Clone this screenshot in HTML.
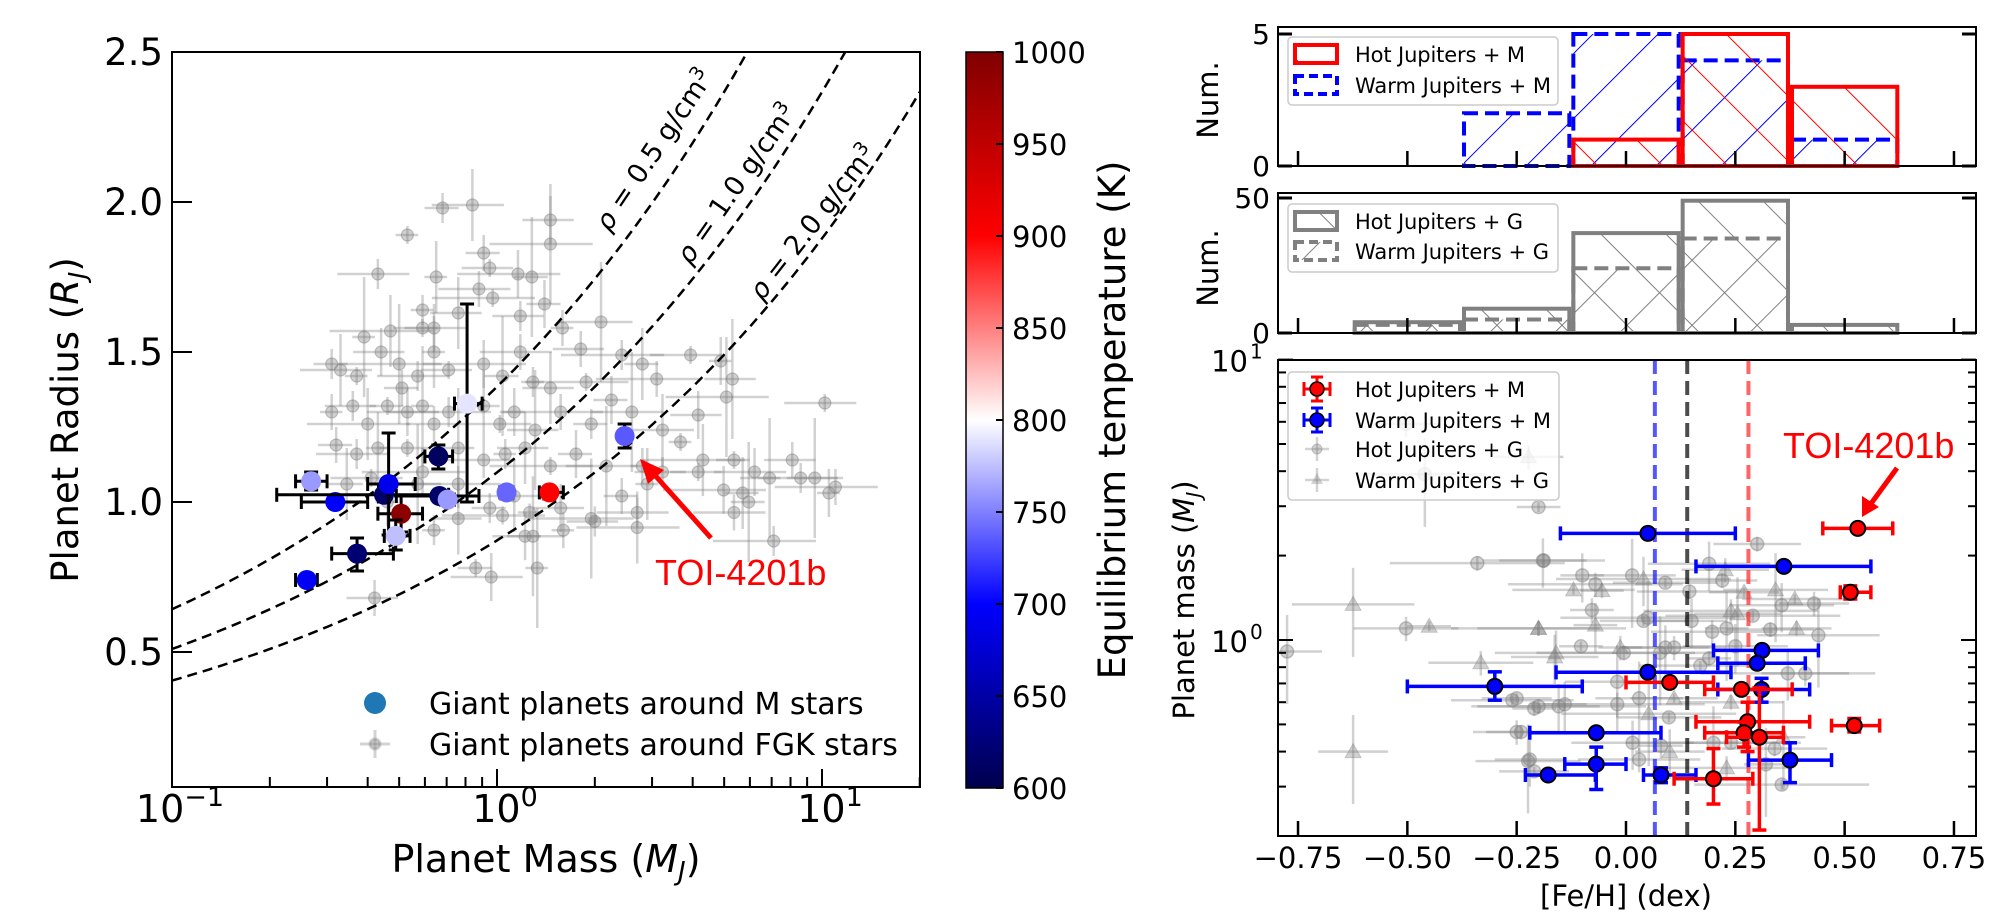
<!DOCTYPE html>
<html><head><meta charset="utf-8">
<style>
html,body{margin:0;padding:0;background:#fff;}
svg{display:block;font-family:"DejaVu Sans","Liberation Sans",sans-serif;}
</style></head>
<body>
<svg id="fig" width="2002" height="924" viewBox="0 0 2002 924" xmlns="http://www.w3.org/2000/svg">
<defs>
  <linearGradient id="seismic" x1="0" y1="1" x2="0" y2="0">
    <stop offset="0" stop-color="#00004d"/>
    <stop offset="0.25" stop-color="#0000ff"/>
    <stop offset="0.5" stop-color="#ffffff"/>
    <stop offset="0.75" stop-color="#ff0000"/>
    <stop offset="1" stop-color="#800000"/>
  </linearGradient>
  <pattern id="hatchRed" patternUnits="userSpaceOnUse" width="46" height="46" patternTransform="rotate(-45)">
    <line x1="0" y1="0" x2="0" y2="46" stroke="#ff0000" stroke-width="2"/>
  </pattern>
  <pattern id="hatchBlue" patternUnits="userSpaceOnUse" width="46" height="46" patternTransform="rotate(45)">
    <line x1="0" y1="0" x2="0" y2="46" stroke="#0000ff" stroke-width="2"/>
  </pattern>
  <pattern id="hatchGrayA" patternUnits="userSpaceOnUse" width="46" height="46" patternTransform="rotate(-45)">
    <line x1="0" y1="0" x2="0" y2="46" stroke="#808080" stroke-width="2"/>
  </pattern>
  <pattern id="hatchGrayB" patternUnits="userSpaceOnUse" width="46" height="46" patternTransform="rotate(45)">
    <line x1="0" y1="0" x2="0" y2="46" stroke="#808080" stroke-width="2"/>
  </pattern>
  <clipPath id="clipL"><rect x="172" y="52" width="748" height="735"/></clipPath>
  <clipPath id="clipR"><rect x="1278" y="360" width="698" height="476"/></clipPath>
</defs>

<g id="left-panel">
  <g id="lgray" clip-path="url(#clipL)"></g>
  <g id="lcurves" clip-path="url(#clipL)"></g>
  <g id="lmstars" clip-path="url(#clipL)"></g>
  <rect x="172" y="52" width="748" height="735" fill="none" stroke="#000" stroke-width="2"/>
  <g id="lticks"></g>
  <text x="609" y="233" font-size="27" transform="rotate(-56 609 233)"><tspan font-style="italic">ρ</tspan> = 0.5 g/cm<tspan dy="-10" font-size="19">3</tspan></text>
  <text x="690" y="266" font-size="27" transform="rotate(-55 690 266)"><tspan font-style="italic">ρ</tspan> = 1.0 g/cm<tspan dy="-10" font-size="19">3</tspan></text>
  <text x="762" y="302" font-size="27" transform="rotate(-52 762 302)"><tspan font-style="italic">ρ</tspan> = 2.0 g/cm<tspan dy="-10" font-size="19">3</tspan></text>
  <text x="655" y="585" font-size="36" fill="#ff0000" font-family="Liberation Sans, sans-serif">TOI-4201b</text>
  <line x1="711" y1="538" x2="652" y2="472" stroke="#ff0000" stroke-width="5"/>
  <polygon points="640,459 664,470 648,484" fill="#ff0000"/>
  <circle cx="375" cy="703" r="11" fill="#1f77b4"/>
  <text x="429" y="714" font-size="30">Giant planets around M stars</text>
  <g stroke="rgba(128,128,128,0.35)" stroke-width="3" fill="none">
    <line x1="360" y1="744" x2="390" y2="744"/><line x1="375" y1="730" x2="375" y2="758"/>
    <circle cx="375" cy="744" r="5" fill="rgba(128,128,128,0.35)"/>
  </g>
  <text x="429" y="755" font-size="30">Giant planets around FGK stars</text>
  <text x="546" y="872" font-size="38" text-anchor="middle">Planet Mass (<tspan font-style="italic">M</tspan><tspan font-style="italic" font-size="26" dy="8">J</tspan><tspan dy="-8">)</tspan></text>
  <text x="0" y="0" font-size="37" text-anchor="middle" transform="translate(78 420) rotate(-90)">Planet Radius (<tspan font-style="italic">R</tspan><tspan font-style="italic" font-size="25" dy="8">J</tspan><tspan dy="-8">)</tspan></text>
</g>

<g id="colorbar">
  <rect x="966" y="52" width="37" height="736" fill="url(#seismic)" stroke="#000" stroke-width="1.5"/>
  <g id="cbticks"></g>
  <text x="0" y="0" font-size="37" text-anchor="middle" transform="translate(1125 420) rotate(-90)">Equilibrium temperature (K)</text>
</g>

<g id="right-panels">
  <g id="hist1"></g>
  <g id="hist2"></g>
  <g id="rgray" clip-path="url(#clipR)"></g>
  <g id="rvlines" clip-path="url(#clipR)"></g>
  <g id="rcolor" clip-path="url(#clipR)"></g>
  <rect x="1278" y="27" width="698" height="139" fill="none" stroke="#000" stroke-width="2"/>
  <rect x="1278" y="193" width="698" height="140" fill="none" stroke="#000" stroke-width="2"/>
  <rect x="1278" y="360" width="698" height="476" fill="none" stroke="#000" stroke-width="2"/>
  <g id="rticks"></g>

  <g>
    <rect x="1288" y="37" width="270" height="68" rx="4" fill="rgba(255,255,255,0.8)" stroke="#ccc" stroke-width="1.5"/>
    <rect x="1295" y="45" width="42" height="18" fill="url(#hatchRed)" stroke="#ff0000" stroke-width="4"/>
    <text x="1355" y="62" font-size="21" textLength="170">Hot Jupiters + M</text>
    <rect x="1295" y="76" width="42" height="18" fill="url(#hatchBlue)" stroke="#0000ff" stroke-width="4" stroke-dasharray="9,5"/>
    <text x="1355" y="93" font-size="21" textLength="196">Warm Jupiters + M</text>
  </g>
  <g>
    <rect x="1288" y="204" width="270" height="68" rx="4" fill="rgba(255,255,255,0.8)" stroke="#ccc" stroke-width="1.5"/>
    <rect x="1295" y="212" width="42" height="18" fill="url(#hatchGrayA)" stroke="#808080" stroke-width="4"/>
    <text x="1355" y="229" font-size="21" textLength="168">Hot Jupiters + G</text>
    <rect x="1295" y="242" width="42" height="18" fill="url(#hatchGrayB)" stroke="#808080" stroke-width="4" stroke-dasharray="9,5"/>
    <text x="1355" y="259" font-size="21" textLength="194">Warm Jupiters + G</text>
  </g>
  <g>
    <rect x="1288" y="372" width="271" height="128" rx="4" fill="rgba(255,255,255,0.8)" stroke="#ccc" stroke-width="1.5"/>
    <g stroke="#ff0000" stroke-width="3"><line x1="1304" y1="389" x2="1330" y2="389"/><line x1="1317" y1="377" x2="1317" y2="401"/><line x1="1304" y1="382" x2="1304" y2="396"/><line x1="1330" y1="382" x2="1330" y2="396"/><line x1="1311" y1="377" x2="1323" y2="377"/><line x1="1311" y1="401" x2="1323" y2="401"/></g>
    <circle cx="1317" cy="389" r="7" fill="#ff0000" stroke="#000" stroke-width="1.5"/>
    <text x="1355" y="397" font-size="21" textLength="170">Hot Jupiters + M</text>
    <g stroke="#0000ff" stroke-width="3"><line x1="1304" y1="420" x2="1330" y2="420"/><line x1="1317" y1="408" x2="1317" y2="432"/><line x1="1304" y1="413" x2="1304" y2="427"/><line x1="1330" y1="413" x2="1330" y2="427"/><line x1="1311" y1="408" x2="1323" y2="408"/><line x1="1311" y1="432" x2="1323" y2="432"/></g>
    <circle cx="1317" cy="420" r="7" fill="#0000ff" stroke="#000" stroke-width="1.5"/>
    <text x="1355" y="428" font-size="21" textLength="196">Warm Jupiters + M</text>
    <g stroke="rgba(128,128,128,0.35)" stroke-width="2.5"><line x1="1305" y1="449" x2="1329" y2="449"/><line x1="1317" y1="437" x2="1317" y2="461"/></g>
    <circle cx="1317" cy="449" r="5" fill="rgba(128,128,128,0.35)" stroke="rgba(128,128,128,0.4)"/>
    <text x="1355" y="457" font-size="21" textLength="168">Hot Jupiters + G</text>
    <g stroke="rgba(128,128,128,0.35)" stroke-width="2.5"><line x1="1305" y1="480" x2="1329" y2="480"/><line x1="1317" y1="468" x2="1317" y2="492"/></g>
    <polygon points="1317,473 1323,484 1311,484" fill="rgba(128,128,128,0.35)"/>
    <text x="1355" y="488" font-size="21" textLength="194">Warm Jupiters + G</text>
  </g>

  <text x="1783" y="458" font-size="36" fill="#ff0000" font-family="Liberation Sans, sans-serif">TOI-4201b</text>
  <line x1="1897" y1="468" x2="1870" y2="505" stroke="#ff0000" stroke-width="5"/>
  <polygon points="1862,517 1862,496 1879,507" fill="#ff0000"/>

  <text x="0" y="0" font-size="29" text-anchor="middle" transform="translate(1218 100) rotate(-90)">Num.</text>
  <text x="0" y="0" font-size="29" text-anchor="middle" transform="translate(1218 268) rotate(-90)">Num.</text>
  <text x="0" y="0" font-size="29" text-anchor="middle" transform="translate(1194 600) rotate(-90)">Planet mass (<tspan font-style="italic">M</tspan><tspan font-style="italic" font-size="20" dy="7">J</tspan><tspan dy="-7">)</tspan></text>
  <text x="1626" y="906" font-size="29" text-anchor="middle">[Fe/H] (dex)</text>
</g>
</svg>

<script>
// ---------- LEFT PANEL DATA ----------
const mMass = [0.268,0.318,0.449,0.464,0.507,0.488,0.371,0.26,0.66,0.665,0.705,0.809,1.07,1.45,2.47];
const mMassLo = [0.24,0.25,0.21,0.40,0.43,0.45,0.31,0.24,0.60,0.49,0.67,0.74,1.02,1.35,2.40];
const mMassHi = [0.30,0.40,0.71,0.56,0.59,0.54,0.48,0.28,0.73,0.88,0.74,0.90,1.12,1.60,2.55];
const mRad = [1.069,1.0,1.024,1.06,0.961,0.887,0.828,0.74,1.152,1.02,1.008,1.328,1.032,1.032,1.22];
const mRadLo = [1.04,0.99,1.0,0.89,0.90,0.84,0.77,0.72,1.11,1.0,0.99,1.0,1.01,1.01,1.18];
const mRadHi = [1.10,1.01,1.05,1.23,1.02,0.94,0.88,0.76,1.19,1.04,1.02,1.66,1.05,1.05,1.26];
const mTeq = [760,700,615,690,990,775,620,695,610,615,760,790,740,900,735];

const fgkMass = [0.68,0.84,0.53,1.46,1.46,0.91,0.43,0.65,0.95,1.16,1.28,0.88,0.59,0.76,0.97,1.4,2.09,1.59,1.18,0.47,0.59,0.64,0.39,1.81,2.42,2.8,3.94,4.88,5.3,3.1,0.31,0.33,0.37,0.44,0.50,0.51,0.57,0.64,0.71,0.91,1.04,1.18,1.29,1.46,1.88,2.25,2.6,0.31,0.36,0.40,0.46,0.53,0.59,0.64,0.71,0.91,1.02,1.13,1.31,1.57,1.95,3.23,3.67,4.16,5.08,0.32,0.37,0.43,0.53,0.59,0.76,0.91,1.06,1.22,1.46,1.75,2.17,2.8,3.23,4.3,5.36,6.2,6.9,8.1,8.6,0.345,0.41,0.46,0.57,0.76,0.95,1.13,1.26,1.57,1.95,2.42,2.7,2.9,4.16,4.98,5.95,5.36,0.64,0.76,1.04,1.22,1.29,1.6,2.0,2.7,0.86,0.96,1.33,0.42,7.1,5.7,10.2,10.5,9.5,11.0];
const fgkRad = [1.98,1.99,1.89,1.94,1.86,1.83,1.76,1.75,1.78,1.76,1.75,1.71,1.64,1.63,1.68,1.66,1.60,1.58,1.62,1.57,1.58,1.58,1.55,1.51,1.49,1.46,1.49,1.47,1.41,1.41,1.46,1.44,1.42,1.50,1.46,1.38,1.42,1.50,1.44,1.46,1.42,1.50,1.40,1.38,1.40,1.34,1.30,1.30,1.32,1.26,1.32,1.30,1.32,1.26,1.30,1.32,1.26,1.30,1.24,1.30,1.26,1.24,1.20,1.29,1.35,1.19,1.16,1.18,1.18,1.10,1.18,1.14,1.16,1.18,1.12,1.16,1.12,1.12,1.10,1.14,1.14,1.10,1.08,1.14,1.08,1.06,1.08,1.0,1.06,1.06,0.98,1.02,0.965,0.98,0.945,1.02,0.965,1.06,1.10,1.04,1.0,0.965,0.906,0.945,0.955,0.886,0.886,0.906,0.935,0.915,0.78,0.75,0.78,0.68,0.87,1.03,1.33,1.03,1.08,1.05];
const fgkMassErrFrac = [0.12,0.25,0.08,0.18,0.35];
const fgkRadErr = [0.05,0.12,0.03,0.08,0.2,0.06];
const rhoValues = [0.5,1.0,2.0];
const leftXTicks = [0.1,1,10];
const leftXTickLabels = [["10","−1"],["10","0"],["10","1"]];
const leftYTicks = [0.5,1.0,1.5,2.0,2.5];
const leftYTickLabels = ["0.5","1.0","1.5","2.0","2.5"];
const cbTicks = [600,650,700,750,800,850,900,950,1000];

// ---------- RIGHT PANEL DATA ----------
const binEdges = [-0.625,-0.375,-0.125,0.125,0.375,0.625];
const hotMCounts = [0,0,1,5,3];
const warmMCounts = [null,2,5,4,1];
const hotGCounts = [4,9,37,49,3];
const warmGCounts = [3,5,24,35,0];

const warmMFeh = [0.361,0.311,0.30,0.05,0.31,-0.30,-0.068,-0.068,-0.178,0.08,0.375,0.05];
const warmMFehLo = [0.16,0.20,0.21,-0.16,0.21,-0.50,-0.22,-0.14,-0.23,0.04,0.28,-0.15];
const warmMFehHi = [0.56,0.44,0.41,0.24,0.42,-0.10,0.08,0.0,-0.07,0.16,0.47,0.25];
const warmMMass = [1.83,0.918,0.826,0.767,0.666,0.683,0.467,0.361,0.33,0.33,0.373,2.4];
const warmMMassLo = [1.83,0.918,0.826,0.767,0.60,0.61,0.467,0.293,0.33,0.31,0.31,2.4];
const warmMMassHi = [1.83,0.918,0.826,0.767,0.73,0.77,0.467,0.415,0.33,0.35,0.43,2.4];

const hotMFeh = [0.53,0.513,0.10,0.264,0.278,0.27,0.305,0.522,0.20];
const hotMFehLo = [0.45,0.49,0.0,0.18,0.16,0.18,0.23,0.47,0.11];
const hotMFehHi = [0.61,0.56,0.2,0.38,0.42,0.36,0.36,0.58,0.29];
const hotMMass = [2.5,1.48,0.706,0.667,0.511,0.467,0.45,0.495,0.32];
const hotMMassLo = [2.5,1.40,0.706,0.667,0.40,0.415,0.21,0.47,0.26];
const hotMMassHi = [2.5,1.56,0.706,0.667,0.60,0.51,0.675,0.525,0.41];

const hotGFeh = [-0.503,-0.46,-0.2,-0.34,-0.19,-0.503,-0.775,-0.26,-0.21,-0.154,-0.25,-0.224,-0.21,-0.188,-0.1,-0.07,0.014,0.09,0.22,0.19,-0.078,0.05,0.04,0.145,0.15,0.197,0.23,0.29,0.33,0.356,0.43,0.44,-0.103,-0.005,0.09,0.11,0.078,0.17,0.19,0.37,0.41,-0.02,-0.25,-0.2,-0.14,-0.02,0.03,0.098,-0.24,0.015,0.08,0.2,0.24,0.34,-0.22,0.03,0.32,0.356,0.3,0.25];
const hotGMass = [5.9,3.9,2.98,1.88,1.92,1.1,0.91,0.61,0.57,0.58,0.47,0.37,0.34,1.92,1.70,1.58,1.7,1.6,1.63,1.87,1.28,1.2,1.17,1.49,1.17,1.07,1.1,1.22,1.09,1.33,1.35,1.04,0.95,0.9,0.94,0.94,0.9,0.81,0.86,0.76,0.76,0.71,0.62,0.58,0.59,0.59,0.62,0.53,0.47,0.43,0.42,0.43,0.43,0.41,0.375,0.375,0.36,0.305,2.2,0.95];
const warmGFeh = [-0.223,-0.624,-0.45,-0.2,-0.163,-0.332,-0.624,-0.12,-0.055,0.04,0.227,0.342,0.27,-0.2,-0.07,0.24,0.255,0.386,0.39,-0.16,-0.013,0.052,0.11,0.24,0.1,0.23,0.36];
const warmGMass = [4.5,1.34,1.12,1.1,0.87,0.83,0.40,1.51,1.5,1.65,1.78,1.51,1.48,1.1,1.13,1.27,1.24,1.4,1.1,0.9,0.94,0.546,0.62,0.6,0.4,0.35,0.45];
const fehErr = [0.08,0.14,0.05,0.2,0.1,0.12];
const massErrFrac = [0.06,0.2,0.1,0.35,0.04];
const medianValues = [0.066,0.14,0.28];
const rXTicks = [-0.75,-0.5,-0.25,0,0.25,0.5,0.75];
const rXTickLabels = ["−0.75","−0.50","−0.25","0.00","0.25","0.50","0.75"];

// ---------- SCALES ----------
const lx = m => 172 + 325*Math.log10(m/0.1);
const ly = r => 52 + (2.5 - r)*300;
const cby = t => 788 - (t-600)/400*736;
const rx = f => 1626 + f*437.3;
const ry = M => 640 - 280.4*Math.log10(M);
const h1y = n => 166 - n*26.4;
const h2y = n => 333 - n*2.7;

const NS = "http://www.w3.org/2000/svg";
const GRAY = "rgba(128,128,128,0.36)";
function mk(tag, attrs, parent){
  const e = document.createElementNS(NS, tag);
  for (const k in attrs) e.setAttribute(k, attrs[k]);
  parent.appendChild(e);
  return e;
}
function seismic(t){
  const u = Math.max(0,Math.min(1,(t-600)/400));
  const stops = [[0,0,0,77],[0.25,0,0,255],[0.5,255,255,255],[0.75,255,0,0],[1,128,0,0]];
  for (let i=0;i<stops.length-1;i++){
    const a=stops[i], b=stops[i+1];
    if (u<=b[0]){ const f=(u-a[0])/(b[0]-a[0]);
      return "rgb("+Math.round(a[1]+(b[1]-a[1])*f)+","+Math.round(a[2]+(b[2]-a[2])*f)+","+Math.round(a[3]+(b[3]-a[3])*f)+")"; }
  }
  return "rgb(128,0,0)";
}

// ---------- LEFT: gray points ----------
const lg = document.getElementById("lgray");
fgkMass.forEach((m,i)=>{
  const g = mk("g",{},lg);
  
  
  const fe = fgkMassErrFrac[i%fgkMassErrFrac.length], re = fgkRadErr[i%fgkRadErr.length];
  const x=lx(m), y=ly(fgkRad[i]);
  mk("line",{x1:lx(m*(1-fe)),y1:y,x2:lx(m*(1+fe)),y2:y,stroke:GRAY,"stroke-width":2.5},g);
  mk("line",{x1:x,y1:ly(fgkRad[i]-re),x2:x,y2:ly(fgkRad[i]+re),stroke:GRAY,"stroke-width":2.5},g);
  mk("circle",{cx:x,cy:y,r:6,fill:GRAY,stroke:"rgba(128,128,128,0.45)","stroke-width":1.2},g);
});
// density curves
const lc = document.getElementById("lcurves");
rhoValues.forEach(rho=>{
  let d="";
  for (let k=0;k<=120;k++){
    const m = 0.1*Math.pow(200,k/120);
    const r = Math.cbrt(m*1.326/rho);
    d += (k?"L":"M")+lx(m).toFixed(1)+","+ly(r).toFixed(1);
  }
  const p = mk("path",{d:d,fill:"none",stroke:"#000","stroke-width":2.5,"stroke-dasharray":"10,6"},lc);
  
  
});
// M star points
const lm = document.getElementById("lmstars");
mMass.forEach((m,i)=>{
  const g = mk("g",{stroke:"#000","stroke-width":3},lm);
  
  
  const x=lx(m), y=ly(mRad[i]);
  mk("line",{x1:lx(mMassLo[i]),y1:y,x2:lx(mMassHi[i]),y2:y},g);
  mk("line",{x1:lx(mMassLo[i]),y1:y-7,x2:lx(mMassLo[i]),y2:y+7},g);
  mk("line",{x1:lx(mMassHi[i]),y1:y-7,x2:lx(mMassHi[i]),y2:y+7},g);
  mk("line",{x1:x,y1:ly(mRadLo[i]),x2:x,y2:ly(mRadHi[i])},g);
  mk("line",{x1:x-7,y1:ly(mRadLo[i]),x2:x+7,y2:ly(mRadLo[i])},g);
  mk("line",{x1:x-7,y1:ly(mRadHi[i]),x2:x+7,y2:ly(mRadHi[i])},g);
  mk("circle",{cx:x,cy:y,r:10,fill:seismic(mTeq[i]),stroke:"none"},g);
});
// left ticks
const lt = document.getElementById("lticks");
for (let dec=-1; dec<=1; dec++){
  for (let k=1;k<=9;k++){
    const v = k*Math.pow(10,dec);
    if (v<0.1 || v>20.001) continue;
    const x=lx(v), len = k===1?18:10;
    const t = mk("line",{x1:x,y1:787,x2:x,y2:787-len,stroke:"#000","stroke-width":2},lt);
    
    
  }
}
mk("line",{x1:lx(20),y1:787,x2:lx(20),y2:777,stroke:"#000","stroke-width":2},lt);
leftXTicks.forEach((v,i)=>{
  const t = mk("text",{x:lx(v)+8,y:822,"font-size":38,"text-anchor":"middle"},lt);
  
  
  t.textContent = leftXTickLabels[i][0];
  const s = mk("tspan",{"font-size":27,dy:-16},t); s.textContent = leftXTickLabels[i][1];
});
leftYTicks.forEach((v,i)=>{
  mk("line",{x1:172,y1:ly(v),x2:192,y2:ly(v),stroke:"#000","stroke-width":2},lt);
  const t = mk("text",{x:163,y:ly(v)+13,"font-size":37,"text-anchor":"end"},lt);
  
  
  t.textContent = leftYTickLabels[i];
});
// colorbar ticks
const cbt = document.getElementById("cbticks");
cbTicks.forEach(v=>{
  mk("line",{x1:996,y1:cby(v),x2:1003,y2:cby(v),stroke:"#000","stroke-width":2},cbt);
  const t = mk("text",{x:1012,y:cby(v)+11,"font-size":29},cbt);
  
  
  t.textContent = String(v);
});

// ---------- RIGHT: histograms ----------
function drawHist(parent, counts, yfun, pattern, color, dashed, name){
  counts.forEach((n,i)=>{
    if (n===null) return;
    const x0=rx(binEdges[i]), x1=rx(binEdges[i+1]);
    const attrs = {x:x0+2,y:yfun(n),width:x1-x0-4,height:Math.max(0,yfun(0)-yfun(n)),fill:"url(#"+pattern+")",stroke:color,"stroke-width":4};
    if (dashed) attrs["stroke-dasharray"]="14,7";
    const r = mk("rect",attrs,parent);
    
    
  });
}
const h1 = document.getElementById("hist1"), h2 = document.getElementById("hist2");
drawHist(h1, warmMCounts, h1y, "hatchBlue", "#0000ff", true, "bar-warm-m");
drawHist(h1, hotMCounts, h1y, "hatchRed", "#ff0000", false, "bar-hot-m");
drawHist(h2, hotGCounts, h2y, "hatchGrayA", "#808080", false, "bar-hot-g");
drawHist(h2, warmGCounts, h2y, "hatchGrayB", "#808080", true, "bar-warm-g");

// ---------- RIGHT: scatter ----------
const rg = document.getElementById("rgray");
function grayPt(f,M,i,tri){
  const g = mk("g",{},rg);
  
  
  const fe=fehErr[i%fehErr.length], me=massErrFrac[(i+2)%massErrFrac.length];
  const x=rx(f), y=ry(M);
  mk("line",{x1:rx(f-fe),y1:y,x2:rx(f+fe),y2:y,stroke:GRAY,"stroke-width":2.5},g);
  mk("line",{x1:x,y1:ry(M*(1-me)),x2:x,y2:ry(M*(1+me)),stroke:GRAY,"stroke-width":2.5},g);
  if (tri) mk("polygon",{points:x+","+(y-8)+" "+(x+8)+","+(y+6)+" "+(x-8)+","+(y+6),fill:GRAY,stroke:GRAY},g);
  else mk("circle",{cx:x,cy:y,r:6.5,fill:GRAY,stroke:"rgba(128,128,128,0.45)","stroke-width":1.5},g);
}
hotGFeh.forEach((f,i)=>grayPt(f,hotGMass[i],i,false));
warmGFeh.forEach((f,i)=>grayPt(f,warmGMass[i],i,true));

const rv = document.getElementById("rvlines");
const medianColors = ["rgba(30,30,255,0.75)","rgba(0,0,0,0.7)","rgba(255,50,50,0.75)"];
const medianNames = ["median-warm-m","median-all","median-hot-m"];
medianValues.forEach((v,i)=>{
  const l = mk("line",{x1:rx(v),y1:360,x2:rx(v),y2:836,stroke:medianColors[i],"stroke-width":4,"stroke-dasharray":"14,7"},rv);
  
  
});

const rc = document.getElementById("rcolor");
function colorPts(feh,flo,fhi,M,mlo,mhi,color,name){
  feh.forEach((f,i)=>{
    const g = mk("g",{stroke:color,"stroke-width":3.5},rc);
    
    
    const x=rx(f), y=ry(M[i]);
    mk("line",{x1:rx(flo[i]),y1:y,x2:rx(fhi[i]),y2:y},g);
    mk("line",{x1:rx(flo[i]),y1:y-7,x2:rx(flo[i]),y2:y+7},g);
    mk("line",{x1:rx(fhi[i]),y1:y-7,x2:rx(fhi[i]),y2:y+7},g);
    if (mlo[i]!==M[i] || mhi[i]!==M[i]){
      mk("line",{x1:x,y1:ry(mlo[i]),x2:x,y2:ry(mhi[i])},g);
      mk("line",{x1:x-7,y1:ry(mlo[i]),x2:x+7,y2:ry(mlo[i])},g);
      mk("line",{x1:x-7,y1:ry(mhi[i]),x2:x+7,y2:ry(mhi[i])},g);
    }
    mk("circle",{cx:x,cy:y,r:7.5,fill:color,stroke:"#000","stroke-width":2},g);
  });
}
colorPts(warmMFeh,warmMFehLo,warmMFehHi,warmMMass,warmMMassLo,warmMMassHi,"#0000ff","warm-m-point");
colorPts(hotMFeh,hotMFehLo,hotMFehHi,hotMMass,hotMMassLo,hotMMassHi,"#ff0000","hot-m-point");

// right ticks
const rt = document.getElementById("rticks");
[166,333,836].forEach(bot=>{
  rXTicks.forEach(v=>{
    mk("line",{x1:rx(v),y1:bot,x2:rx(v),y2:bot-15,stroke:"#000","stroke-width":2.5},rt);
  });
});
rXTicks.forEach((v,i)=>{
  const t = mk("text",{x:rx(v),y:868,"font-size":29,"text-anchor":"middle"},rt);
  
  
  t.textContent = rXTickLabels[i];
});
[[h1y,[0,5],["0","5"]],[h2y,[0,50],["0","50"]]].forEach(([fy,vals,labs])=>{
  vals.forEach((v,i)=>{
    mk("line",{x1:1278,y1:fy(v),x2:1292,y2:fy(v),stroke:"#000","stroke-width":3},rt);
    mk("line",{x1:1976,y1:fy(v),x2:1962,y2:fy(v),stroke:"#000","stroke-width":3},rt);
    const t = mk("text",{x:1270,y:fy(v)+10,"font-size":28,"text-anchor":"end"},rt);
    
    
    t.textContent = labs[i];
  });
});
for (let dec=-1; dec<=1; dec++){
  for (let k=1;k<=9;k++){
    const v=k*Math.pow(10,dec);
    if (v<0.2 || v>10) continue;
    const len = k===1?15:8, y=ry(v);
    mk("line",{x1:1278,y1:y,x2:1278+len,y2:y,stroke:"#000","stroke-width":2},rt);
    mk("line",{x1:1976,y1:y,x2:1976-len,y2:y,stroke:"#000","stroke-width":2},rt);
  }
}
[[10,"1"],[1,"0"]].forEach(([v,ex])=>{
  const t = mk("text",{x:1248,y:ry(v)+12,"font-size":29,"text-anchor":"end"},rt);
  
  
  t.textContent="10";
  const s = mk("text",{x:1250,y:ry(v)-1,"font-size":20},rt);
  
  
  s.textContent=ex;
});
</script>
</body></html>
